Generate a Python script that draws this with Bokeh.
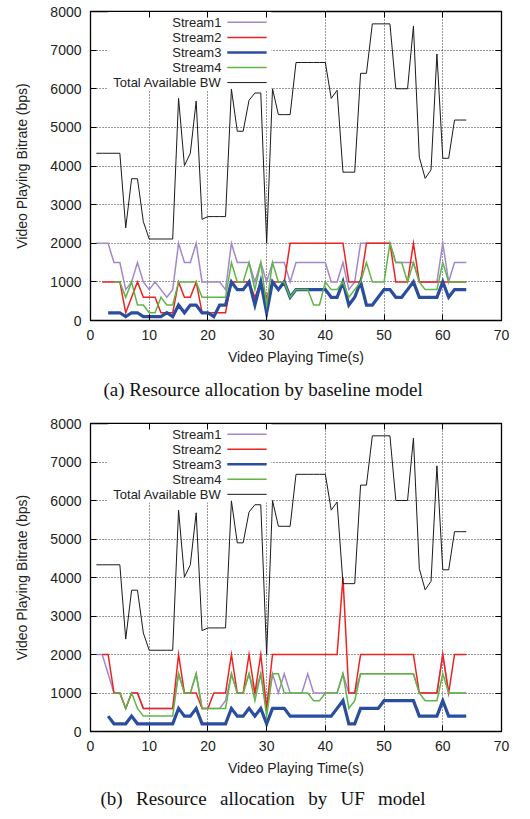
from bokeh.plotting import figure
from bokeh.layouts import column
from bokeh.models import Range1d, FixedTicker, Title, BoxAnnotation, LinearAxis
from bokeh.core.properties import value
from bokeh.embed import file_html
from bokeh.resources import INLINE

# ---------------- data ----------------
time_bw = list(range(1, 65))
total_bw = ([4330] * 5 + [2400] + [3670] * 2 + [2560] + [2110] * 5 +
            [5750, 4010, 4330, 5680, 2620] + [2690] * 4 + [5990] + [4900] * 2 +
            [5700] + [5890] * 2 + [2000, 6000] + [5330] * 3 + [6680] * 6 +
            [5750, 5960] + [3840] * 3 + [6400] * 2 + [7680] * 4 + [6000] * 3 +
            [7620, 4230, 3680, 3900, 6900] + [4200] * 2 + [5190] * 3)

start_s1, start_s2, start_s3, start_s4 = 1, 2, 3, 4

base_s1 = [2000, 2000, 2000, 1500, 1500, 800, 1000, 1500, 1000, 800,
           1000, 800, 600, 800, 2000, 1500, 1500, 2000, 1000, 1000,
           1000, 1000, 800, 2000, 1500, 1500, 1500, 1000, 1500, 1000,
           1500, 1500, 1500, 1000, 1500, 1500, 1500, 1500, 1500, 1500,
           1000, 1000, 1500, 800, 1000, 2000, 2000, 2000, 2000, 2000,
           2000, 1500, 1500, 1500, 1500, 1000, 1000, 1000, 1000, 2000,
           1000, 1500, 1500, 1500]
base_s2 = ([1000] * 4 + [200, 600, 1000] + [600] * 3 + [200] * 3 + [1000] +
           [600] * 2 + [1000] + [200] * 5 + [1000] * 4 + [600, 1000, 600] +
           [1000] * 3 + [2000] * 10 + [1000] * 3 + [2000] * 5 + [1000] * 3 +
           [2000] + [1000] * 9)
base_s3 = ([200, 200, 200, 100, 200, 200, 100, 100, 100, 100, 200, 100, 400, 200,
            400, 400, 200, 200, 100, 400, 400, 1000, 800, 800, 1000, 400, 1000,
            200, 1000, 800, 1000, 600] + [800] * 6 +
           [600, 600, 1000, 400, 600, 1000, 400, 400, 600, 800, 800, 600, 600,
            800, 1000] + [600] * 4 + [1000, 600] + [800] * 3)
base_s4 = ([1000, 1000, 600, 1000, 400, 400, 200, 200, 600, 400, 400] +
           [1000] * 4 + [600] * 5 +
           [1500, 1000, 1000, 1500, 800, 1500, 400, 1500, 1000, 1000, 600] +
           [800] * 3 + [400, 400, 1000, 800, 800, 1000, 600, 800, 1000, 1500] +
           [1000] * 3 + [2000, 1500, 1500, 1000, 1500, 1000] + [800] * 3 +
           [1500] + [1000] * 4)

uf_s1 = [2000, 2000, 1500, 1000, 1000, 600, 1000, 1000, 600, 600,
         600, 600, 600, 600, 1500, 1000, 1000, 1500, 600, 600,
         600, 600, 800, 1500, 1000, 1000, 1500, 1000, 1500, 600,
         1500, 1000, 1500, 1000, 1000, 1000, 1500, 1000, 1000, 1000,
         1000, 1000, 1500, 1000, 1000, 1500, 1500, 1500, 1500, 1500,
         1500, 1500, 1500, 1500, 1500, 1000, 1000, 1000, 1000, 2000,
         1000, 1000, 1000, 1000]
uf_s2 = ([2000, 2000, 1000, 1000, 600, 1000, 1000] + [600] * 6 + [2000] +
         [1000] * 3 + [600] * 2 + [1000] * 3 +
         [2000, 1000, 1000, 2000, 1000, 2000, 600] + [2000] * 12 +
         [4000, 1000, 1000] + [2000] * 10 + [1000] * 4 + [2000, 1000] + [2000] * 3)
uf_s3 = ([400, 200, 200, 200, 400] + [200] * 7 + [600, 400, 400, 600] + [200] * 5 +
         [600, 400, 400, 600, 400, 600, 200] + [600] * 3 + [400] * 8 +
         [600, 800, 200, 200] + [600] * 4 + [800] * 6 + [400] * 4 + [800] +
         [400] * 4)
uf_s4 = ([1000, 1000, 600, 1000, 600] + [400] * 6 + [1500, 1000, 1000, 1500] +
         [600] * 5 + [1500, 1000, 1000, 1500, 800, 1500, 400, 1500, 1500] +
         [1000] * 5 + [800, 800] + [1000] * 3 + [1500, 600, 800] + [1500] * 10 +
         [1000] + [800] * 3 + [1500] + [1000] * 4)

series_names = ["Stream1", "Stream2", "Stream3", "Stream4", "Total Available BW"]
x_ticks = [0, 10, 20, 30, 40, 50, 60, 70]
y_ticks = [0, 1000, 2000, 3000, 4000, 5000, 6000, 7000, 8000]
captions = ["(a) Resource allocation by baseline model",
            "(b) Resource allocation by UF model"]

# ---------------- style ----------------
colors = ["#a387cc", "#f0221f", "#2b4d9f", "#5fb647", "#1a1a1a"]
widths = [1.5, 1.5, 3.2, 1.5, 1.0]
SANS = "Liberation Sans"
SERIF = "Liberation Serif"


def mirror_axis(p, side, ticks):
    ax = LinearAxis(ticker=FixedTicker(ticks=ticks), axis_line_color="black",
                    major_tick_in=6, major_tick_out=0, minor_tick_line_color=None,
                    major_label_text_font_size="0px", major_label_standoff=0,
                    major_label_text_alpha=0)
    p.add_layout(ax, side)


def make_plot(streams, caption, height, top, bottom, cap_offset, word_gap,
              cap_standoff):
    p = figure(width=522, height=height, x_range=Range1d(0, 70),
               y_range=Range1d(0, 8000), output_backend="svg",
               toolbar_location=None, min_border_left=90, min_border_right=21,
               min_border_top=top, min_border_bottom=bottom)
    p.background_fill_color = "white"
    p.border_fill_color = "white"
    p.outline_line_color = "black"
    p.outline_line_width = 1.3

    p.xaxis.ticker = FixedTicker(ticks=x_ticks)
    p.yaxis.ticker = FixedTicker(ticks=y_ticks)
    for ax in (p.xaxis, p.yaxis):
        ax.axis_line_color = "black"
        ax.major_tick_in = 6
        ax.major_tick_out = 0
        ax.minor_tick_line_color = None
        ax.major_label_text_font = SANS
        ax.major_label_text_font_size = "14px"
        ax.major_label_text_color = "#222"
        ax.axis_label_text_font = SANS
        ax.axis_label_text_font_size = "14px"
        ax.axis_label_text_font_style = "normal"
        ax.axis_label_text_color = "#222"
    p.xaxis.axis_label = "Video Playing Time(s)"
    p.yaxis.axis_label = "Video Playing Bitrate (bps)"
    p.xaxis.major_label_standoff = 9
    p.xaxis.axis_label_standoff = 6
    p.yaxis.major_label_standoff = 9
    p.yaxis.axis_label_standoff = 17
    mirror_axis(p, "right", y_ticks)
    mirror_axis(p, "above", x_ticks)

    for g in (p.xgrid, p.ygrid):
        g.grid_line_color = "#333"
        g.grid_line_dash = "1 2"
        g.grid_line_width = 1

    # legend area (opaque, like the gnuplot key)
    key_left, key_right, key_bottom = 3, 30.8, 5950
    p.add_layout(BoxAnnotation(left=key_left, right=key_right, bottom=key_bottom,
                               top=8000, fill_color="white", fill_alpha=1.0,
                               line_color=None, level="underlay"))

    starts = [start_s1, start_s2, start_s3, start_s4]
    for i, (st, vals) in enumerate(zip(starts, streams)):
        xs = list(range(st, st + len(vals)))
        p.line(xs, vals, line_color=colors[i], line_width=widths[i],
               line_join="miter")
    p.line(time_bw, total_bw, line_color=colors[4], line_width=widths[4])

    # key entries: text right-aligned, sample to the right
    row_top, row_step = 7720, 390
    rows = [row_top - k * row_step for k in range(5)]
    text_x, s_x0, s_x1 = 22.3, 23.3, 30.0
    p.text(x=[text_x] * 5, y=rows, text=series_names, text_align="right",
           text_baseline="middle", text_font=value(SANS),
           text_font_size="13px", text_color="#222")
    for k in range(5):
        p.segment(x0=[s_x0], y0=[rows[k]], x1=[s_x1], y1=[rows[k]],
                  line_color=colors[k], line_width=widths[k] if k != 2 else 2.6)

    p.add_layout(Title(text=caption.replace(" ", word_gap), align="left",
                       text_font=SERIF, text_font_size="19px",
                       text_font_style="normal", text_color="#111",
                       standoff=cap_standoff, offset=cap_offset), "below")
    return p


p1 = make_plot([base_s1, base_s2, base_s3, base_s4], captions[0], 408, 11, 88,
               13, " ", 18)
p2 = make_plot([uf_s1, uf_s2, uf_s3, uf_s4], captions[1], 408, 15, 84,
               10, " \u00a0\u2009", 15)
layout = column(p1, p2, spacing=0)

open("out.html", "w").write(file_html(layout, INLINE))
